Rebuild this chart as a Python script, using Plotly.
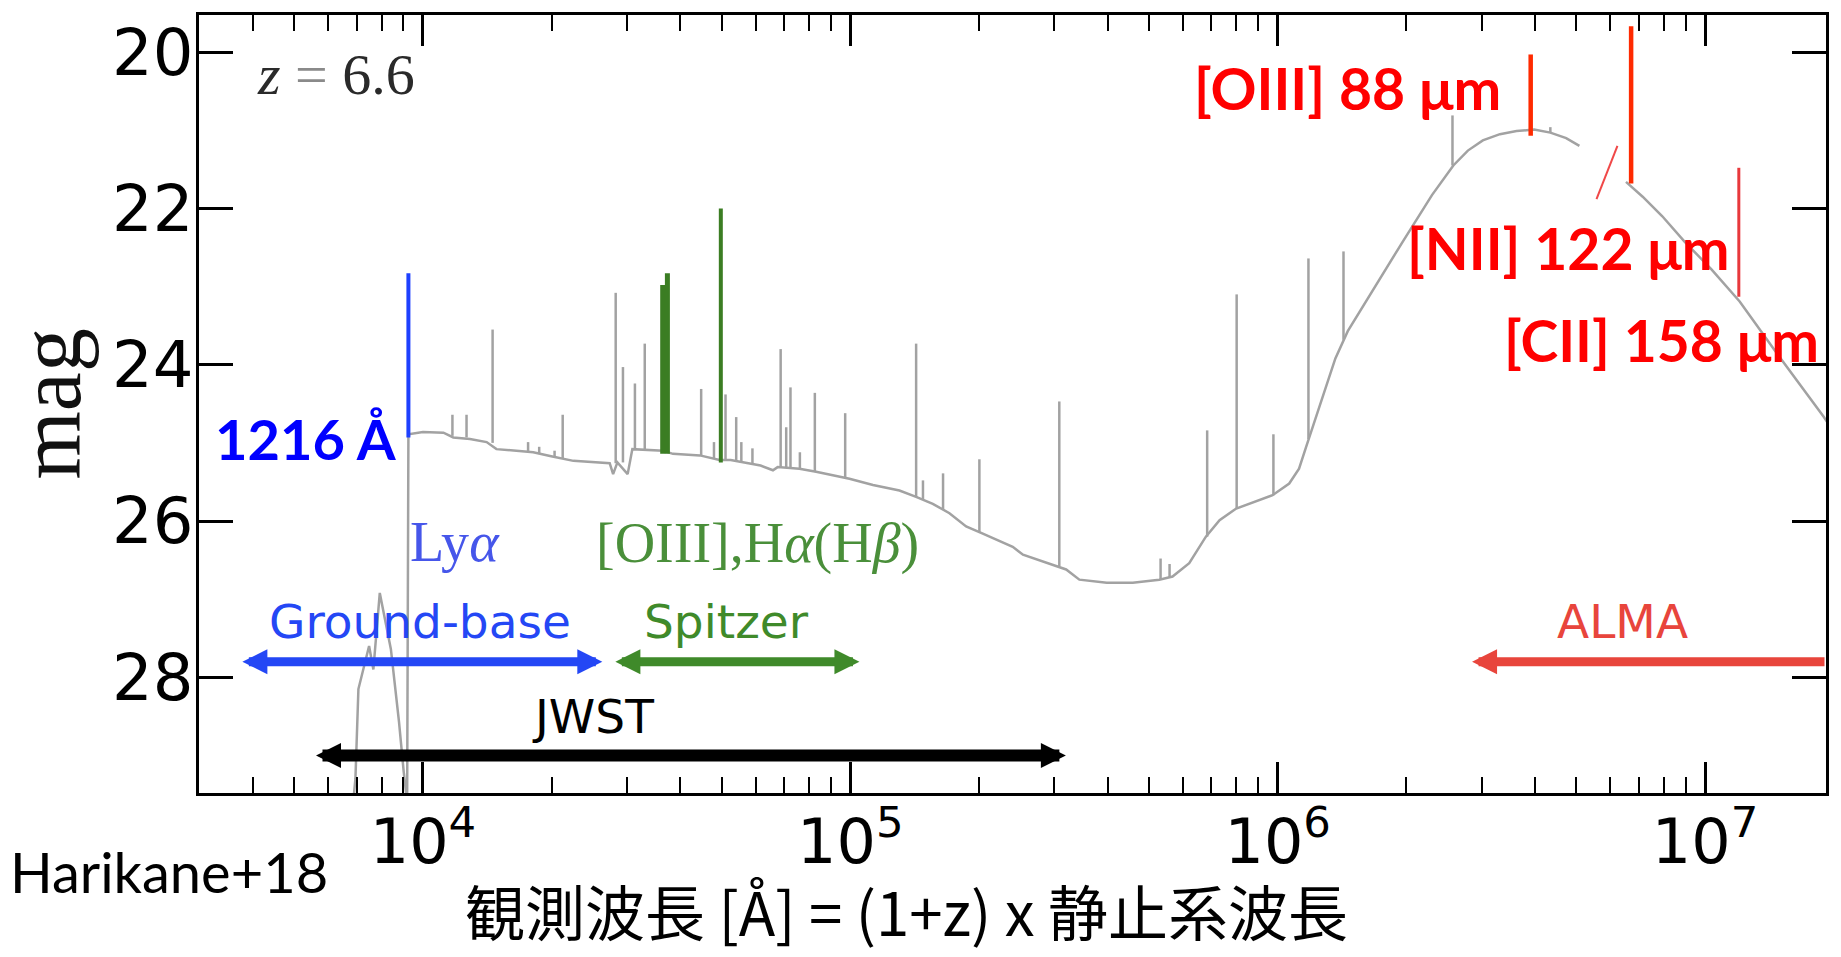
import math
import plotly.graph_objects as go

# ---------------- data ----------------
# model SED continuum: log10(observed wavelength / Å) and AB magnitude (None = gap)
cont_logw = [3.835, 3.842, 3.849, 3.874, 3.884, 3.899, 3.925, 3.944, 3.955, 3.962,
             3.963, 3.966, 4.000, 4.048, 4.071, 4.110, 4.149, 4.172, 4.258, 4.300,
             4.352, 4.437, 4.445, 4.455, 4.479, 4.490, 4.562, 4.585, 4.648, 4.694,
             4.720, 4.790, 4.819, 4.830, 4.881, 4.920, 4.998, 5.053, 5.115, 5.154,
             5.193, 5.232, 5.271, 5.310, 5.349, 5.380, 5.404, 5.482, 5.505, 5.536,
             5.600, 5.661, 5.723, 5.754, 5.793, 5.832, 5.864, 5.903, 5.988, 6.027,
             6.050, 6.066, 6.082, 6.110, 6.135, 6.164, 6.224, 6.292, 6.361, 6.411,
             6.445, 6.480, 6.520, 6.559, 6.600, 6.638, 6.675, 6.706, None, 6.815,
             6.854, 6.900, 6.953, 7.015, 7.081, 7.170, 7.278, 7.300]
cont_mag = [29.70, 29.30, 28.15, 27.60, 27.90, 26.92, 27.64, 28.57, 29.21, 29.60,
            29.60, 24.89, 24.86, 24.87, 24.93, 24.95, 24.99, 25.08, 25.12, 25.17,
            25.23, 25.26, 25.40, 25.25, 25.40, 25.08, 25.10, 25.14, 25.16, 25.22,
            25.22, 25.29, 25.35, 25.31, 25.33, 25.37, 25.46, 25.54, 25.61, 25.69,
            25.78, 25.90, 26.07, 26.16, 26.26, 26.33, 26.43, 26.58, 26.62, 26.75,
            26.79, 26.79, 26.75, 26.71, 26.54, 26.20, 25.99, 25.84, 25.67, 25.52,
            25.33, 25.06, 24.80, 24.33, 23.92, 23.57, 23.03, 22.43, 21.83, 21.45,
            21.26, 21.13, 21.05, 21.01, 20.99, 21.03, 21.10, 21.20, None, 21.66,
            21.85, 22.10, 22.43, 22.78, 23.19, 23.87, 24.67, 24.85]

# gray emission lines: log10(wavelength), base mag, peak mag
line_logw = [4.069, 4.102, 4.163, 4.246, 4.272, 4.308, 4.327, 4.451, 4.468, 4.496,
             4.519, 4.651, 4.681, 4.708, 4.733, 4.745, 4.771, 4.837, 4.850, 4.860,
             4.882, 4.917, 4.988, 5.154, 5.170, 5.217, 5.302, 5.489, 5.726, 5.747,
             5.835, 5.904, 5.990, 6.072, 6.154, 6.409, 6.638]
line_base = [24.91, 24.93, 25.00, 25.11, 25.13, 25.18, 25.20, 25.26, 25.25, 25.08,
             25.08, 25.16, 25.20, 25.22, 25.23, 25.24, 25.26, 25.32, 25.32, 25.33,
             25.33, 25.37, 25.45, 25.69, 25.72, 25.85, 26.14, 26.58, 26.75, 26.72,
             26.20, 25.84, 25.67, 24.95, 23.68, 21.45, 21.03]
line_peak = [24.64, 24.64, 23.55, 24.99, 25.05, 25.10, 24.64, 23.08, 24.03, 24.24,
             23.73, 24.31, 24.99, 24.38, 24.67, 24.99, 25.07, 23.80, 24.80, 24.29,
             25.12, 24.36, 24.62, 23.73, 25.48, 25.39, 25.21, 24.47, 26.48, 26.55,
             24.84, 23.10, 24.89, 22.64, 22.55, 20.81, 20.96]

# highlighted lines: log10(wavelength), bottom mag, top mag
lya_logw, lya_bot, lya_top = [3.966], [24.93], [22.83]
green_logw = [4.561, 4.572, 4.697]
green_bot = [25.14, 25.14, 25.25]
green_top = [22.98, 22.83, 22.00]
red_logw = [6.592, 6.827, 7.079]
red_bot = [21.07, 21.68, 23.13]
red_top = [20.03, 19.67, 21.48]
nii_seg_logw = [6.746, 6.795]
nii_seg_mag = [21.88, 21.20]

# observing-facility wavelength coverage [Å] and the magnitude row of each arrow
facilities = ["Ground-base", "Spitzer", "JWST", "ALMA"]
fac_lo = [3780, 28200, 5620, 2.85e6]
fac_hi = [26500, 105900, 322000, 1.92e7]
fac_mag = [27.80, 27.80, 29.00, 27.80]

# x tick labels
xtick_vals = [1e4, 1e5, 1e6, 1e7]
xtick_text = ["10<sup>4</sup>", "10<sup>5</sup>", "10<sup>6</sup>", "10<sup>7</sup>"]

# ---------------- figure ----------------
W = lambda lw: [None if v is None else 10 ** v for v in lw]

fig = go.Figure()
fig.add_trace(go.Scatter(x=W(cont_logw), y=cont_mag, mode="lines",
                         line=dict(color="#a2a2a2", width=2.5), hoverinfo="skip"))

lx, ly = [], []
for w, b, p in zip(line_logw, line_base, line_peak):
    lx += [10 ** w, 10 ** w, None]
    ly += [b, p, None]
fig.add_trace(go.Scatter(x=lx, y=ly, mode="lines",
                         line=dict(color="#a2a2a2", width=2.5), hoverinfo="skip"))


def vlines(lw, bot, top, color, width):
    xs, ys = [], []
    for w, b, t in zip(lw, bot, top):
        xs += [10 ** w, 10 ** w, None]
        ys += [b, t, None]
    fig.add_trace(go.Scatter(x=xs, y=ys, mode="lines",
                             line=dict(color=color, width=width), hoverinfo="skip"))


vlines(lya_logw, lya_bot, lya_top, "#1e40ff", 4)
vlines(green_logw[:2], green_bot[:2], green_top[:2], "#3b7d23", 5)
vlines(green_logw[2:], green_bot[2:], green_top[2:], "#3b7d23", 4)
vlines(red_logw[:2], red_bot[:2], red_top[:2], "#ff2a00", 4.5)
vlines(red_logw[2:], red_bot[2:], red_top[2:], "#e8383c", 3)
fig.add_trace(go.Scatter(x=W(nii_seg_logw), y=nii_seg_mag, mode="lines",
                         line=dict(color="#f04848", width=2), hoverinfo="skip"))

# plot-pixel helpers for text placement (plot area: x 199..1827, y 12..793)
def px(X):
    return (X - 199) / 1628


def py(Y):
    return (793 - Y) / 781


ann = []


def txt(text, X, Y, size, family, color, xanchor="left", angle=0, yanchor="middle"):
    ann.append(dict(text=text, x=px(X), y=py(Y), xref="paper", yref="paper",
                    xanchor=xanchor, yanchor=yanchor, showarrow=False, textangle=angle,
                    font=dict(size=size, family=family, color=color)))


SERIF = "Liberation Serif"
SANS = "DejaVu Sans"
CAL = "Lato"
txt("<i>z</i> <span style='color:#8a8a8a'>=</span> 6.6", 255, 72, 58, SERIF, "#2a2a2a")
txt("<b>1216 Å</b>", 213, 437, 56, CAL, "#0000ff")
txt("Ly<i>α</i>", 408, 541, 56, SERIF, "#4656ea")
txt("[OIII],H<i>α</i>(H<i>β</i>)", 594, 543, 56, SERIF, "#4a8f3a")
txt("<b>[OIII] 88 μm</b>", 1193, 85, 57, CAL, "#ff0000")
txt("<b>[NII] 122 μm</b>", 1406, 246, 57, CAL, "#ff0000")
txt("<b>[CII] 158 μm</b>", 1503, 338, 57, CAL, "#ff0000")
txt("Harikane+18", 8, 872, 56, CAL, "#000000")
txt("観測波長 [Å] = (1+z) x 静止系波長", 907, 956, 60, "Noto Sans CJK JP", "#000000",
    xanchor="center", yanchor="bottom")
txt("mag", 50, 402, 88, SERIF, "#111111", xanchor="center", angle=-90)

fac_color = ["#2447f5", "#3f8a2a", "#000000", "#e8453c"]
fac_text_xy = [(420, 621), (727, 621), (593, 716), (1623, 621)]
fac_width = [9, 9, 12, 9]
for i, name in enumerate(facilities):
    X, Y = fac_text_xy[i]
    txt(name, X, Y, 47, SANS, fac_color[i], xanchor="center")
    both = name != "ALMA"
    hi = min(math.log10(fac_hi[i]), 7.283)
    ann.append(dict(x=math.log10(fac_lo[i]), y=fac_mag[i], ax=hi, ay=fac_mag[i],
                    xref="x", yref="y", axref="x", ayref="y", text="", showarrow=True,
                    arrowside="end+start" if both else "end",
                    arrowhead=2, startarrowhead=2,
                    arrowsize=5.0 / fac_width[i], startarrowsize=5.0 / fac_width[i],
                    arrowwidth=fac_width[i], arrowcolor=fac_color[i]))

minor_vals = [k * 10 ** d for d in range(3, 8) for k in range(2, 10)]

fig.update_layout(
    width=1841, height=957,
    margin=dict(l=199, r=14, t=12, b=164),
    plot_bgcolor="white", paper_bgcolor="white",
    showlegend=False,
    annotations=ann,
    xaxis=dict(type="log", range=[3.476, 7.283], showline=True, linecolor="black",
               linewidth=2.5, mirror="ticks", ticks="inside", ticklen=31, tickwidth=2.5,
               tickcolor="black", tickmode="array", tickvals=xtick_vals,
               ticktext=xtick_text, showgrid=False, ticklabelstandoff=-7,
               zeroline=False, tickfont=dict(family=SANS, size=62, color="black")),
    yaxis=dict(range=[29.48, 19.525], showline=True, linecolor="black", linewidth=2.5,
               mirror="ticks", ticks="inside", ticklen=34, tickwidth=2.5,
               tickcolor="black", tick0=20, dtick=2, showgrid=False, zeroline=False,
               ticklabelstandoff=-10,
               tickfont=dict(family=SANS, size=64, color="black")),
)
fig.update_xaxes(minor=dict(ticks="inside", ticklen=16, tickwidth=2, tickcolor="black",
                            tickvals=minor_vals, showgrid=False))

fig.write_html("out.html")
